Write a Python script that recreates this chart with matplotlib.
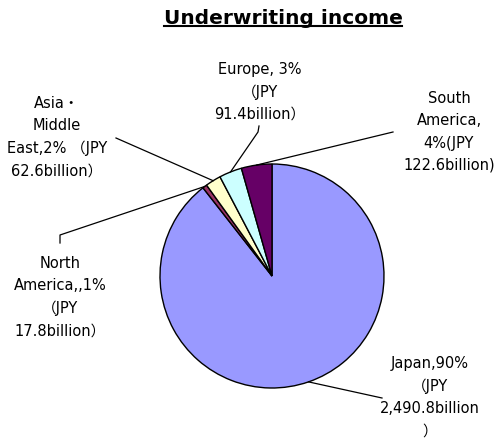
import numpy as np
import matplotlib
matplotlib.use("Agg")
import matplotlib.pyplot as plt

plt.rcParams['font.family'] = ['DejaVu Sans', 'Noto Sans CJK JP']

# data (JPY billion), clockwise from 12 o'clock
regions = ["Japan", "North America", "Asia・Middle East", "Europe", "South America"]
values = [2490.8, 17.8, 62.6, 91.4, 122.6]
colors = ["#9999FF", "#993366", "#FFFFCC", "#CCFFFF", "#660066"]
labels = ["Japan,90%\n（JPY\n2,490.8billion\n）",
          "North\nAmerica,,1%\n（JPY\n17.8billion）",
          "Asia・\nMiddle\nEast,2% （JPY\n62.6billion）",
          "Europe, 3%\n（JPY\n91.4billion）",
          "South\nAmerica,\n4%(JPY\n122.6billion)"]

W, H = 496, 441
CX, CY, R = 272, 276, 112   # pie centre / radius in pixels

# label centre and leader line bend points, pixels from top-left
label_pos = [(430, 397), (60, 297), (57, 137), (260, 92), (449, 132)]
leader_pts = [[(382, 398)],
              [(60, 235), (60, 243)],
              [(116, 138)],
              [(258, 132), (259, 126)],
              [(393, 132)]]


def px2data(p):
    return ((p[0] - CX) / R, (CY - p[1]) / R)


fig = plt.figure(figsize=(W / 100, H / 100), dpi=100)
ax = fig.add_axes([(CX - R) / W, (H - CY - R) / H, 2 * R / W, 2 * R / H])

wedges, _ = ax.pie(values, colors=colors, startangle=90, counterclock=False,
                   wedgeprops=dict(edgecolor='black', linewidth=1.0))
ax.set_xlim(-1, 1)
ax.set_ylim(-1, 1)
ax.axis('off')

for w, lab, lp, pts in zip(wedges, labels, label_pos, leader_pts):
    mid = np.deg2rad((w.theta1 + w.theta2) / 2)
    xs = [np.cos(mid)] + [px2data(p)[0] for p in pts]
    ys = [np.sin(mid)] + [px2data(p)[1] for p in pts]
    ax.plot(xs, ys, color='black', linewidth=0.9, clip_on=False)
    ax.text(*px2data(lp), lab, ha='center', va='center', multialignment='center',
            fontsize=10.5, linespacing=1.6, clip_on=False)

title = fig.text(283 / W, 1 - 18 / H, "Underwriting income", ha='center', va='center',
                 fontsize=14.5, fontweight='bold')
fig.canvas.draw()
bb = title.get_window_extent().transformed(fig.transFigure.inverted())
fig.add_artist(plt.Line2D([bb.x0, bb.x1], [bb.y0 + 1.5 / H, bb.y0 + 1.5 / H],
                          color='black', linewidth=1.5, transform=fig.transFigure))

fig.savefig("out.png", dpi=100)
